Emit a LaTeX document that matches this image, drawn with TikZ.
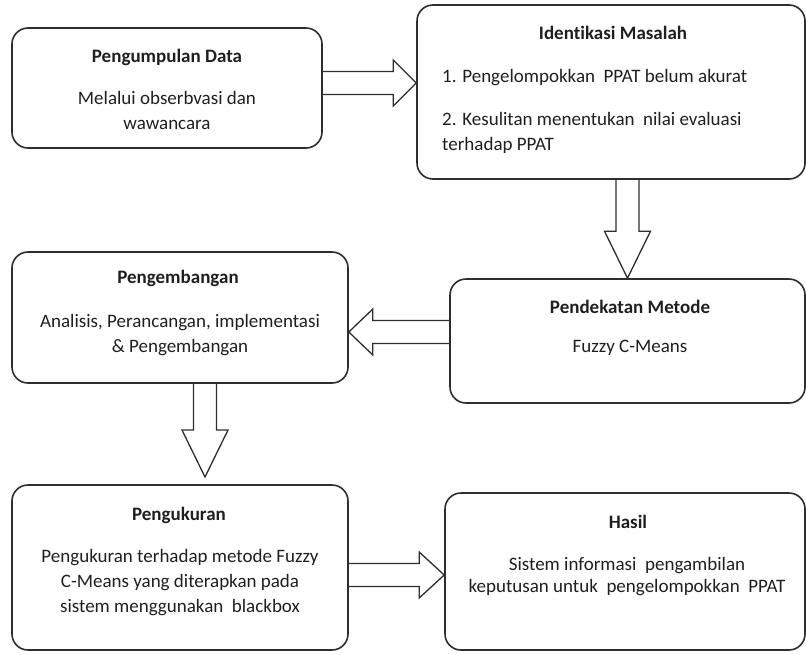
\documentclass[tikz,border=0pt]{standalone}
\usepackage{fontspec}
\setmainfont{Carlito}[Ligatures=NoCommon]
\usepackage{tikz}
\usetikzlibrary{calc}
\definecolor{boxline}{HTML}{2E2E2E}
\tikzset{
  box/.style={draw=boxline,line width=1.6pt,rounded corners=16pt},
  fat/.style={draw=boxline,line width=1.3pt,line join=miter},
  title/.style={execute at begin node=\bfseries},
  body/.style={align=center}
}
% hollow block arrow: tail, tip, head length
\def\fatarrow#1#2#3{%
  \coordinate (hb) at ($(#2)!#3pt!(#1)$);
  \draw[fat] ($(#1)!11.5pt!90:(#2)$) -- ($(hb)!11.5pt!-90:(#1)$) -- ($(hb)!23pt!-90:(#1)$)
    -- (#2) -- ($(hb)!23pt!90:(#1)$) -- ($(hb)!11.5pt!90:(#1)$) -- ($(#1)!11.5pt!-90:(#2)$);}

\begin{document}
\begin{tikzpicture}[x=1pt,y=-1pt,every node/.style={inner sep=0pt,text=black!88},
  font=\fontsize{19pt}{25pt}\selectfont]
%\draw[help lines,step=50] (0,0) grid (806,654);
\useasboundingbox (0,0) rectangle (806,654);

\node[box,minimum width=310pt,minimum height=120pt] (b1) at (167,88) {};
\node[box,minimum width=388pt,minimum height=174pt] (b2) at (611,92) {};
\node[box,minimum width=355pt,minimum height=124pt] (b3) at (627.5,341) {};
\node[box,minimum width=336pt,minimum height=131pt] (b4) at (180,317.5) {};
\node[box,minimum width=336pt,minimum height=165pt] (b5) at (180,567.5) {};
\node[box,minimum width=360pt,minimum height=157pt] (b6) at (625,571.5) {};

\node[title] (t1) at (167,57) {Pengumpulan Data};
\node[body] (d1) at (167,110.5) {Melalui obserbvasi dan\\wawancara};
\node[title] (t2) at (613,33) {Identikasi Masalah};
\node[anchor=west] (d2a) at (442,78) {1. Pengelompokkan\ \ PPAT belum akurat};
\node[anchor=west,align=left] (d2b) at (442,132.5) {2. Kesulitan menentukan\ \ nilai evaluasi\\terhadap PPAT};
\node[title] (t3) at (630,307) {Pendekatan Metode};
\node (d3) at (630,348) {Fuzzy C-Means};
\node[title] (t4) at (178,278) {Pengembangan};
\node[body] (d4) at (180,335) {Analisis, Perancangan, implementasi\\\& Pengembangan};
\node[title] (t5) at (179,515) {Pengukuran};
\node[body] (d5) at (180,583) {Pengukuran terhadap metode Fuzzy\\C-Means yang diterapkan pada\\sistem menggunakan\ \ blackbox};
\node[title] (t6) at (628,522) {Hasil};
\node[body] (d6) at (627,576.5) {Sistem informasi\ \ pengambilan\\[-3pt]keputusan untuk\ \ pengelompokkan\ \ PPAT};

\coordinate (a1s) at (b1.east |- 0,83);
\coordinate (a1e) at (b2.west |- a1s);
\fatarrow{a1s}{a1e}{23}
\coordinate (a2s) at (b3.north |- b2.south);
\fatarrow{a2s}{b3.north}{47}
\coordinate (a3s) at (b3.west |- 0,332);
\coordinate (a3e) at (b4.east |- a3s);
\fatarrow{a3s}{a3e}{24}
\coordinate (a4s) at (205,0 |- b4.south);
\coordinate (a4e) at (a4s |- 0,477);
\fatarrow{a4s}{a4e}{47}
\coordinate (a5s) at (b5.east |- 0,575);
\coordinate (a5e) at (b6.west |- a5s);
\fatarrow{a5s}{a5e}{25}
\end{tikzpicture}
\end{document}
